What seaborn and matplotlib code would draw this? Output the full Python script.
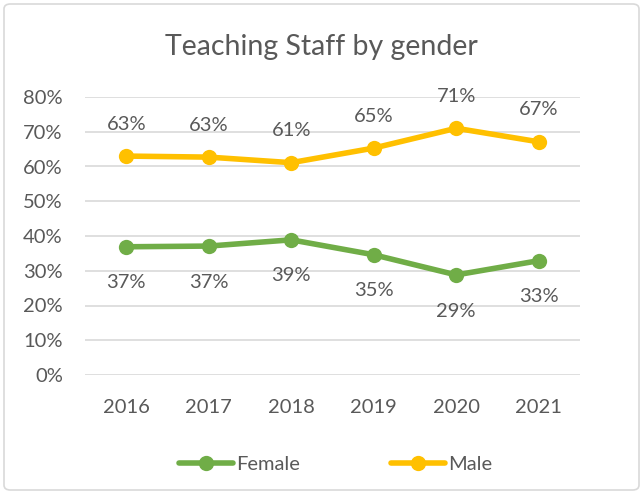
import matplotlib
matplotlib.use("Agg")
import matplotlib.pyplot as plt
import seaborn as sns
import pandas as pd
from matplotlib.patches import FancyBboxPatch
from matplotlib.ticker import PercentFormatter
from matplotlib.lines import Line2D

years = ["2016", "2017", "2018", "2019", "2020", "2021"]
female = [36.9, 37.1, 38.9, 34.6, 28.8, 32.9]
male = [63.0, 62.7, 61.1, 65.3, 71.0, 67.1]
series_names = ["Female", "Male"]
colors = {"Female": "#70AD47", "Male": "#FFC000"}
title = "Teaching Staff by gender"

df = pd.DataFrame({
    "Year": years * 2,
    "Share": female + male,
    "Gender": ["Female"] * len(years) + ["Male"] * len(years),
})

sns.set_theme(style="white")
plt.rcParams["font.family"] = ["Lato", "DejaVu Sans"]
text_color = "#595959"
fs = 14.5

fig = plt.figure(figsize=(6.43, 4.94), dpi=100)
ax = fig.add_axes([85 / 643, 1 - 375 / 494, (580 - 85) / 643, (375 - 97) / 494])

sns.lineplot(data=df, x="Year", y="Share", hue="Gender", hue_order=series_names,
             palette=colors, marker="o", markersize=11, markeredgewidth=0,
             linewidth=4, ax=ax, legend=False, sort=False)

ax.set_xlim(-0.5, len(years) - 0.5)
ax.set_ylim(0, 80)
ax.set_yticks(range(0, 81, 10))
ax.yaxis.set_major_formatter(PercentFormatter(decimals=0))
ax.grid(axis="y", color="#D9D9D9", linewidth=1.2)
ax.grid(axis="x", visible=False)
ax.set_axisbelow(True)
for s in ax.spines.values():
    s.set_visible(False)
ax.set_xlabel("")
ax.set_ylabel("")
ax.tick_params(axis="both", length=0, labelsize=fs, colors=text_color)
ax.tick_params(axis="x", pad=17)
ax.tick_params(axis="y", pad=16)

for i, v in enumerate(male):
    ax.annotate(f"{round(v)}%", (i, v), xytext=(0, 23), textcoords="offset points",
                ha="center", va="center", fontsize=fs, color=text_color)
for i, v in enumerate(female):
    ax.annotate(f"{round(v)}%", (i, v), xytext=(0, -26), textcoords="offset points",
                ha="center", va="center", fontsize=fs, color=text_color)

fig.text(0.5, 1 - 47 / 494, title, ha="center", va="center", fontsize=20.5, color=text_color)

handles = [Line2D([0], [0], color=colors[n], lw=4, marker="o", markersize=11,
                  markeredgewidth=0) for n in series_names]
leg = fig.legend(handles, series_names, loc="center", bbox_to_anchor=(0.522, 1 - 464 / 494),
                 ncol=2, frameon=False, fontsize=fs, handlelength=2.7,
                 handletextpad=0.15, columnspacing=4.5)
for t in leg.get_texts():
    t.set_color(text_color)

border = FancyBboxPatch((4 / 643, 4 / 494), 1 - 8 / 643, 1 - 8 / 494,
                        boxstyle="round,pad=0,rounding_size=0.01",
                        transform=fig.transFigure, fill=False,
                        edgecolor="#D9D9D9", linewidth=1.2)
fig.patches.append(border)

fig.savefig("out.png", dpi=100)
